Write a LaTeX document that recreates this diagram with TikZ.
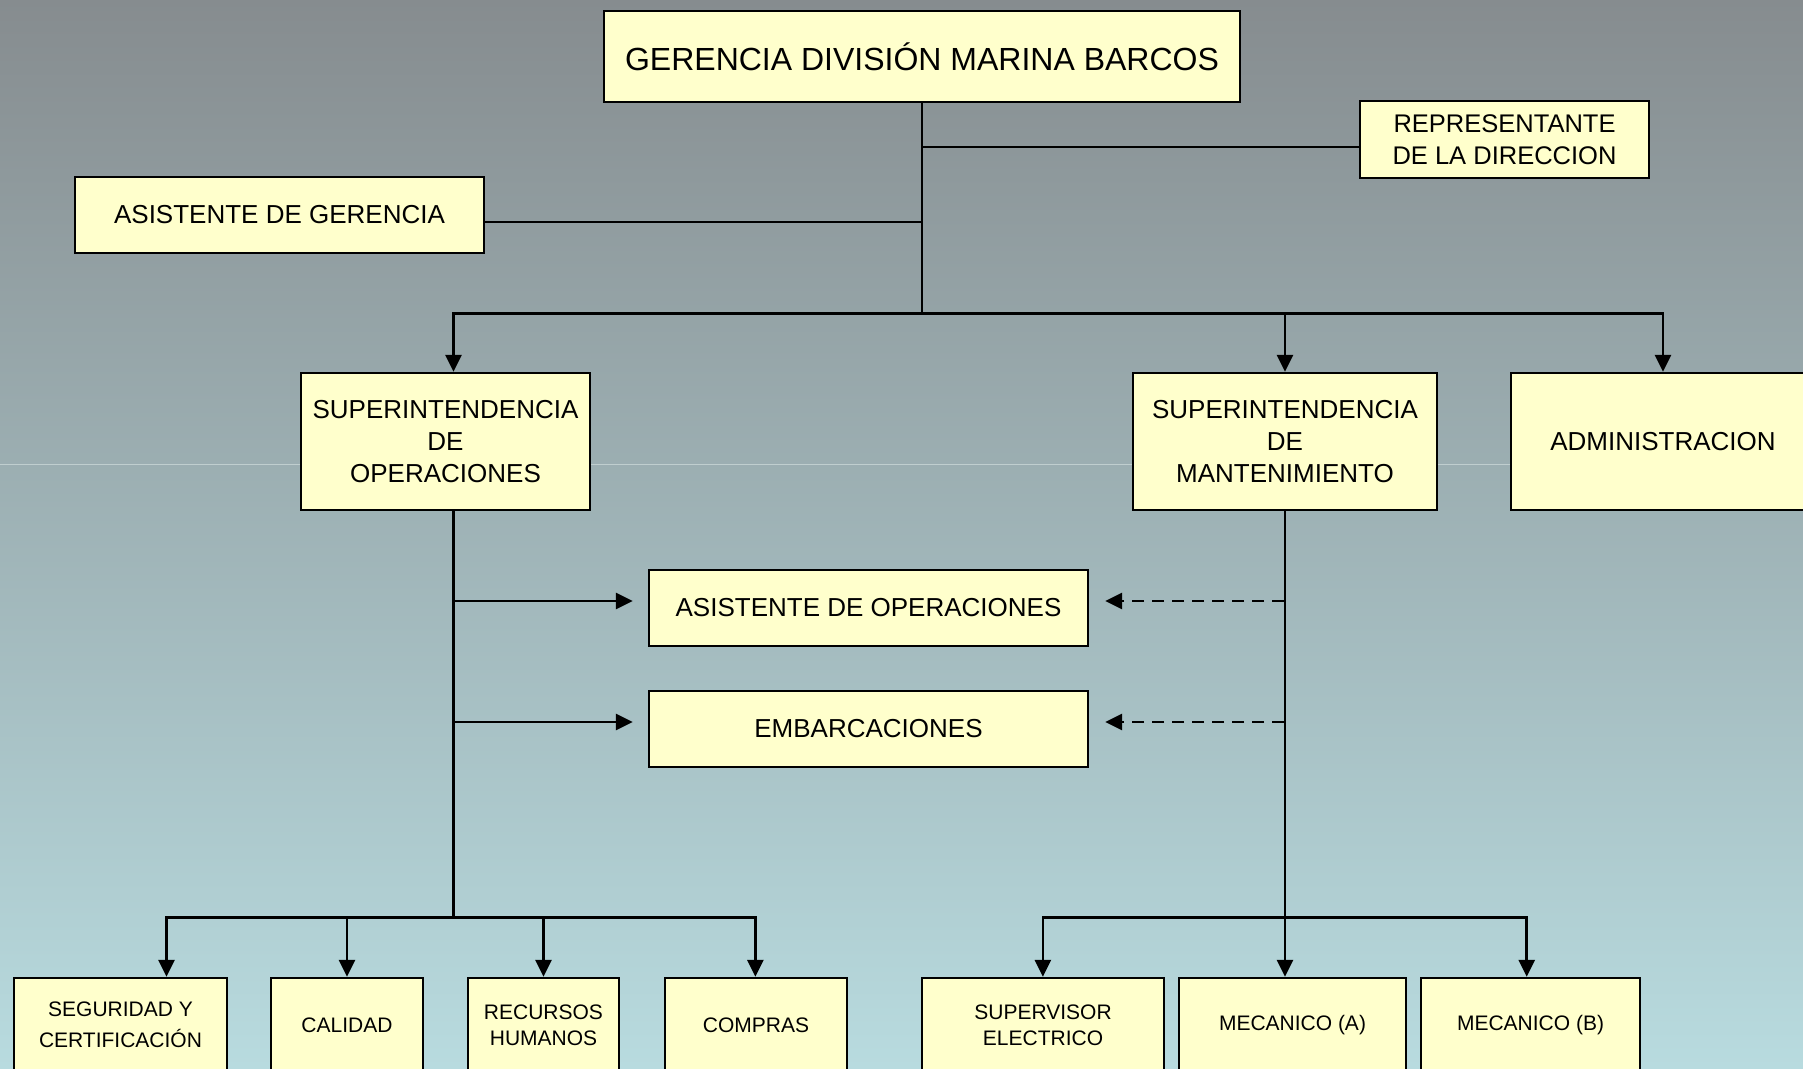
\documentclass[tikz,border=0pt]{standalone}
\usepackage{fontspec}
\setmainfont{Liberation Sans}
\usetikzlibrary{arrows.meta}
\definecolor{bgtop}{RGB}{134,140,143}
\definecolor{bgbot}{RGB}{184,219,223}
\definecolor{boxfill}{RGB}{255,255,204}
\definecolor{seam}{RGB}{192,206,207}
\begin{document}
\begin{tikzpicture}[x=1pt,y=-1pt,
  orgbox/.style={draw=black, line width=2.4pt, fill=boxfill, inner sep=0pt, align=center, text=black},
  bigtxt/.style={font=\fontsize{32}{38}\selectfont},
  midtxt/.style={font=\fontsize{26}{32}\selectfont},
  smalltxt/.style={font=\fontsize{21}{26}\selectfont},
  link/.style={line width=2.7pt, draw=black, line cap=rect},
  arr/.style={link, -{Triangle[length=17pt,width=16pt]}},
  dasharr/.style={arr, line cap=butt, dash pattern=on 12pt off 8pt}]
\useasboundingbox (0,0) rectangle (1803,1068);
\clip (0,0) rectangle (1803,1068);
\shade[top color=bgtop, bottom color=bgbot] (0,0) rectangle (1803,1068);
\draw[seam, line width=1pt] (0,464) -- (1803,464);

% boxes
\node[orgbox,bigtxt,minimum width=636pt,minimum height=91pt] (ger) at (922,56.5) {GERENCIA DIVISIÓN MARINA BARCOS};
\node[orgbox,font=\fontsize{25.5}{32}\selectfont,minimum width=289pt,minimum height=77pt] (rep) at (1504.5,139.5) {REPRESENTANTE\\DE LA DIRECCION};
\node[orgbox,midtxt,minimum width=409pt,minimum height=76pt] (asg) at (279.5,215) {ASISTENTE DE GERENCIA};
\node[orgbox,midtxt,minimum width=289pt,minimum height=137pt] (sop) at (445.5,441.5) {SUPERINTENDENCIA\\DE\\OPERACIONES};
\node[orgbox,midtxt,minimum width=304pt,minimum height=137pt] (smt) at (1285,441.5) {SUPERINTENDENCIA\\DE\\MANTENIMIENTO};
\node[orgbox,midtxt,minimum width=304pt,minimum height=137pt] (adm) at (1663,441.5) {ADMINISTRACION};
\node[orgbox,midtxt,minimum width=439pt,minimum height=76pt] (aop) at (868.5,608) {ASISTENTE DE OPERACIONES};
\node[orgbox,midtxt,minimum width=439pt,minimum height=76pt] (emb) at (868.5,729) {EMBARCACIONES};

\node[orgbox,font=\fontsize{21}{31}\selectfont,minimum width=213pt,minimum height=94pt] (seg) at (120.5,1025) {SEGURIDAD Y\\CERTIFICACIÓN};
\node[orgbox,smalltxt,minimum width=151.5pt,minimum height=94pt] (cal) at (347,1025) {CALIDAD};
\node[orgbox,smalltxt,minimum width=151pt,minimum height=94pt] (rec) at (543.5,1025) {RECURSOS\\HUMANOS};
\node[orgbox,smalltxt,minimum width=182pt,minimum height=94pt] (com) at (756,1025) {COMPRAS};
\node[orgbox,smalltxt,minimum width=242pt,minimum height=94pt] (sup) at (1043,1025) {SUPERVISOR\\ELECTRICO};
\node[orgbox,smalltxt,minimum width=227pt,minimum height=94pt] (ma) at (1292.5,1025) {MECANICO (A)};
\node[orgbox,smalltxt,minimum width=219pt,minimum height=94pt] (mb) at (1530.5,1025) {MECANICO (B)};

% top connectors
\coordinate (j0) at (922,313.3);
\coordinate (jr) at (922,147);
\coordinate (ja) at (922,222);
\draw[link] (ger.south) -- (j0);
\draw[link] (jr) -- (rep.west |- jr);
\draw[link] (ja) -- (asg.east |- ja);
\coordinate (b1l) at (453.5,313.3);
\coordinate (b1r) at (1663,313.3);
\draw[link] (b1l) -- (b1r);
\draw[arr] (b1l) -- (sop.north -| b1l);
\draw[arr] (smt.north |- j0) -- (smt.north);
\draw[arr] (b1r) -- (adm.north -| b1r);

% operations branch
\coordinate (b2c) at (453.5,917.7);
\coordinate (t1) at (453.5,601);
\coordinate (t2) at (453.5,722);
\draw[link] (b2c |- sop.south) -- (b2c);
\draw[arr] (t1) -- ([xshift=-15pt]aop.west |- t1);
\draw[arr] (t2) -- ([xshift=-15pt]emb.west |- t2);
\coordinate (b2l) at (166.5,917.7);
\coordinate (b2r) at (755.4,917.7);
\draw[link] (b2l) -- (b2r);
\draw[arr] (b2l) -- (seg.north -| b2l);
\draw[arr] (cal.north |- b2l) -- (cal.north);
\draw[arr] (rec.north |- b2l) -- (rec.north);
\draw[arr] (b2r) -- (com.north -| b2r);

% maintenance branch
\coordinate (m1) at (1284,601);
\coordinate (m2) at (1284,722);
\draw[arr] (smt.south) -- (ma.north -| smt.south);
\draw[dasharr] (m1) -- ([xshift=16pt]aop.east |- m1);
\draw[dasharr] (m2) -- ([xshift=16pt]emb.east |- m2);
\coordinate (b3l) at (1042.9,917.7);
\coordinate (b3r) at (1526.7,917.7);
\draw[link] (b3l) -- (b3r);
\draw[arr] (b3l) -- (sup.north -| b3l);
\draw[arr] (b3r) -- (mb.north -| b3r);
\end{tikzpicture}
\end{document}
